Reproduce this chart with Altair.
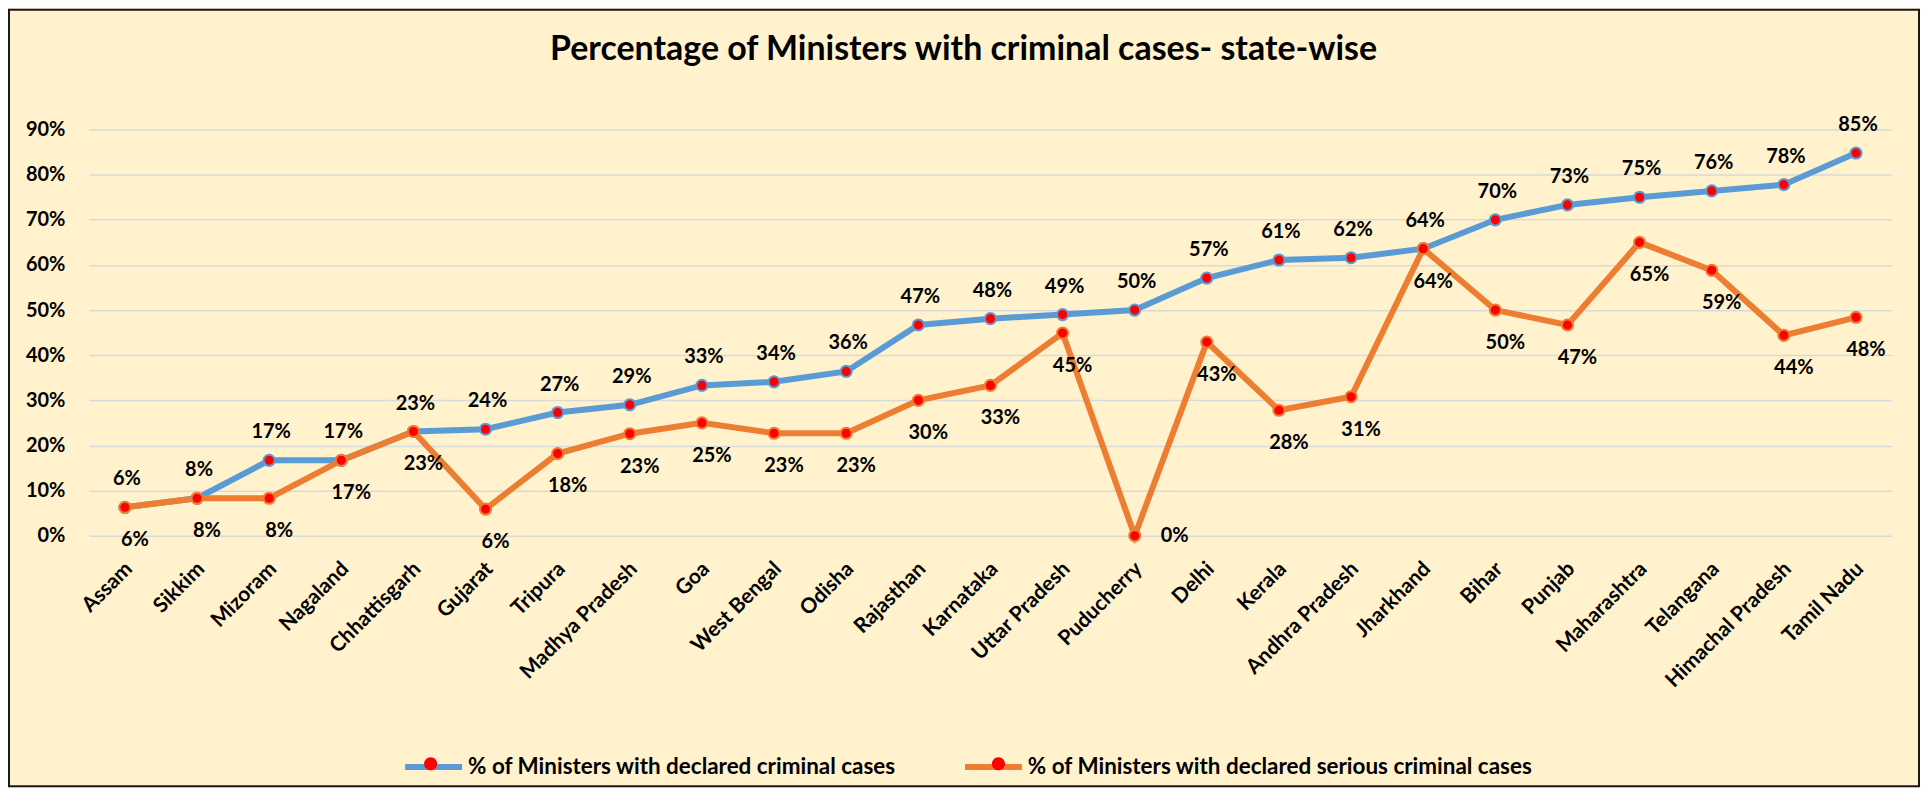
import altair as alt
import pandas as pd

# ---------------- data ----------------
states = ["Assam", "Sikkim", "Mizoram", "Nagaland", "Chhattisgarh", "Gujarat", "Tripura",
          "Madhya Pradesh", "Goa", "West Bengal", "Odisha", "Rajasthan", "Karnataka",
          "Uttar Pradesh", "Puducherry", "Delhi", "Kerala", "Andhra Pradesh", "Jharkhand",
          "Bihar", "Punjab", "Maharashtra", "Telangana", "Himachal Pradesh", "Tamil Nadu"]
criminal_pct = [6.3, 8.3, 16.7, 16.7, 23.1, 23.6, 27.3, 29.0, 33.3, 34.1, 36.4, 46.7, 48.1,
                49.0, 50.0, 57.1, 61.1, 61.6, 63.6, 70.0, 73.3, 75.0, 76.4, 77.8, 84.8]
serious_pct = [6.3, 8.3, 8.3, 16.7, 23.1, 5.9, 18.2, 22.6, 25.0, 22.7, 22.7, 30.0, 33.3,
               44.9, 0.0, 42.9, 27.8, 30.8, 63.6, 50.0, 46.7, 65.0, 58.8, 44.4, 48.4]
series_names = ["% of Ministers with declared criminal cases",
                "% of Ministers with declared serious criminal cases"]
y_ticks = [0, 0.1, 0.2, 0.3, 0.4, 0.5, 0.6, 0.7, 0.8, 0.9]
title_text = "Percentage of Ministers with criminal cases- state-wise"

rows = []
for name, vals in zip(series_names, [criminal_pct, serious_pct]):
    for s, v in zip(states, vals):
        rows.append({"state": s, "series": name, "dot": name, "value": v / 100.0})
df = pd.DataFrame(rows)

# ---------------- style / layout ----------------
FONT = "Lato"
BLUE = "#5B9BD5"
ORANGE = "#ED7D31"
RED = "#FF0000"
BG = "#FFF2CC"
GRID = "#D9D9D9"

PLOT_W, PLOT_H = 1807, 407
PAD_L, PAD_T, PAD_R, PAD_B = 81, 121, 28, 252
LEG_X, LEG_Y = 314, 607
SYM = 57                      # legend symbol width in px
LEG_FONT = 22.5
DOT_COL_PAD = 509             # spacing of the dot-only legend so dots sit on the bars
COL_PAD = 56

label_style = dict(labelFont=FONT, labelFontSize=20, labelFontWeight="bold", labelColor="black")
leg_label_style = dict(labelFont=FONT, labelFontSize=LEG_FONT, labelFontWeight="bold",
                       labelColor="black")

base = alt.Chart(df).encode(
    x=alt.X("state:N", sort=states, scale=alt.Scale(padding=0.5),
            axis=alt.Axis(title=None, labelAngle=-45, labelAlign="right", labelBaseline="top",
                          labelPadding=22, labelOffset=-4, domain=False, ticks=False,
                          tickSize=0, grid=False, labelOverlap=False,
                          labelFont=FONT, labelFontSize=21, labelFontWeight="bold",
                          labelColor="black")),
    y=alt.Y("value:Q", scale=alt.Scale(domain=[0, 0.9], nice=False),
            axis=alt.Axis(title=None, format=".0%", values=y_ticks, domain=False, ticks=False,
                          tickSize=0, labelPadding=24, grid=True, gridColor=GRID,
                          gridWidth=1.5, **label_style)),
)

legend_common = dict(title=None, orient="none", legendX=LEG_X, legendY=LEG_Y,
                     direction="horizontal", symbolSize=SYM * SYM, labelOffset=3,
                     padding=0, labelLimit=0, **leg_label_style)

lines = base.mark_line(strokeWidth=6).encode(
    stroke=alt.Stroke("series:N",
                      scale=alt.Scale(domain=series_names, range=[BLUE, ORANGE]),
                      legend=alt.Legend(symbolType="M-1,0L1,0", symbolStrokeWidth=6,
                                        symbolOpacity=1, columnPadding=COL_PAD,
                                        **legend_common)),
    detail="series:N",
)

r = 0.23
dot_path = f"M-{r},0A{r},{r},0,1,1,{r},0A{r},{r},0,1,1,-{r},0Z"
points = base.mark_circle(size=125, opacity=1, strokeWidth=2).encode(
    fill=alt.Fill("dot:N", scale=alt.Scale(range=[RED, RED]),
                  legend=alt.Legend(symbolType=dot_path, symbolStrokeWidth=0,
                                    symbolOpacity=1, labelExpr="''", zindex=1,
                                    columnPadding=DOT_COL_PAD,
                                    **legend_common)),
    stroke=alt.Stroke("series:N"),
)

text_style = dict(font=FONT, fontSize=20, fontWeight="bold", color="black")
txt = alt.Text("value:Q", format=".0%")

blue_labels = base.transform_filter(alt.datum.series == series_names[0]).mark_text(
    dy=-28, dx=2, **text_style).encode(text=txt)
orange_labels = base.transform_filter(
    (alt.datum.series == series_names[1]) & (alt.datum.state != "Puducherry")
).mark_text(dy=33, dx=10, **text_style).encode(text=txt)
orange_side = base.transform_filter(
    (alt.datum.series == series_names[1]) & (alt.datum.state == "Puducherry")
).mark_text(dx=40, dy=0, **text_style).encode(text=txt)

frame = alt.Chart(pd.DataFrame({"k": [0]})).mark_rect(
    fill="transparent", stroke="#1a1a1a", strokeWidth=2
).encode(
    x=alt.value(-PAD_L + 1), x2=alt.value(PLOT_W + PAD_R - 1),
    y=alt.value(-PAD_T + 1), y2=alt.value(PLOT_H + PAD_B - 1),
)

chart = alt.layer(lines, points, blue_labels, orange_labels, orange_side, frame).properties(
    width=PLOT_W, height=PLOT_H,
    padding={"left": PAD_L, "top": PAD_T, "right": PAD_R, "bottom": PAD_B},
    autosize=alt.AutoSizeParams(type="none"),
    background=BG,
    title=alt.TitleParams(text=title_text, font=FONT, fontSize=34, fontWeight="bold",
                          color="black", anchor="middle", frame="group", offset=0,
                          dy=58, dx=-27),
).configure_view(stroke=None)

chart.save("out.html", embed_options={"renderer": "svg", "actions": False})
